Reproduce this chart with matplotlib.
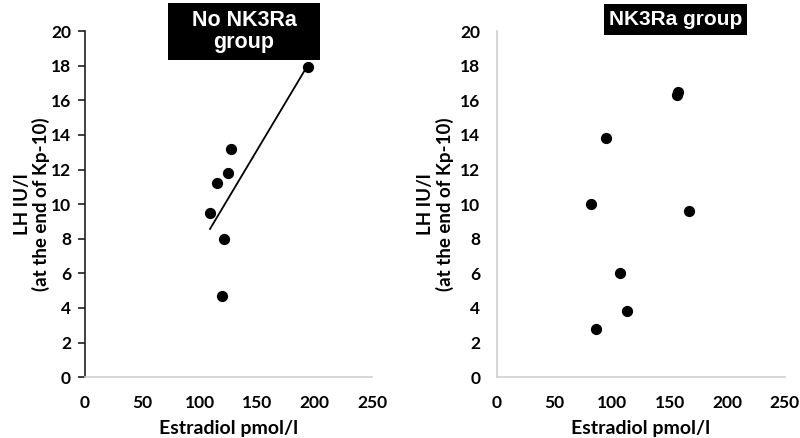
import numpy as np
import matplotlib
matplotlib.use("Agg")
import matplotlib.pyplot as plt
from matplotlib.patches import Rectangle

# No NK3Ra group
no_nk3ra_e2 = [194, 127, 125, 115, 109, 121, 119]
no_nk3ra_lh = [17.9, 13.2, 11.8, 11.2, 9.5, 8.0, 4.7]

# NK3Ra group
nk3ra_e2 = [157, 156, 95, 82, 167, 107, 113, 86]
nk3ra_lh = [16.5, 16.3, 13.8, 10.0, 9.6, 6.0, 3.8, 2.8]

x_ticks = [0, 50, 100, 150, 200, 250]
y_ticks = [0, 2, 4, 6, 8, 10, 12, 14, 16, 18, 20]
x_label = "Estradiol pmol/l"
y_label = "LH IU/l\n(at the end of Kp-10)"

tick_font = "Lato"
box_font = "Liberation Sans"

fig = plt.figure(figsize=(8, 4.38), dpi=100)
ax1 = fig.add_axes([0.106, 0.139, 0.359, 0.790])
ax2 = fig.add_axes([0.621, 0.139, 0.360, 0.790])


def style_axes(ax, left_color, show_yticks, ylab_x):
    ax.set_xlim(0, 250)
    ax.set_ylim(0, 20)
    ax.set_xticks(x_ticks)
    ax.set_yticks(y_ticks)
    for s in ["top", "right"]:
        ax.spines[s].set_visible(False)
    ax.spines["bottom"].set_color("#d0d0d0")
    ax.spines["left"].set_color(left_color)
    ax.spines["bottom"].set_linewidth(1.2)
    ax.spines["left"].set_linewidth(1.2)
    ax.tick_params(axis="x", length=0, pad=13)
    if show_yticks:
        ax.tick_params(axis="y", length=5, width=1.2, color=left_color, pad=5)
    else:
        ax.tick_params(axis="y", length=0, pad=12)
    for lab in ax.get_xticklabels() + ax.get_yticklabels():
        lab.set_fontfamily(tick_font)
        lab.set_fontweight("bold")
        lab.set_fontsize(12.5)
    ax.set_xlabel(x_label, fontfamily=tick_font, fontweight="bold",
                  fontsize=14, labelpad=6)
    ax.set_ylabel(y_label, fontfamily=tick_font, fontweight="bold",
                  fontsize=13.5, linespacing=1.1)
    ax.yaxis.set_label_coords(ylab_x, 0.5)


ax1.scatter(no_nk3ra_e2, no_nk3ra_lh, s=50, color="black", zorder=3)
slope, intercept = np.polyfit(no_nk3ra_e2, no_nk3ra_lh, 1)
xs = np.array([min(no_nk3ra_e2), max(no_nk3ra_e2)])
ax1.plot(xs, slope * xs + intercept, color="black", lw=1.3)
style_axes(ax1, "#202020", True, -0.12)

ax2.scatter(nk3ra_e2, nk3ra_lh, s=50, color="black", zorder=3)
style_axes(ax2, "#d0d0d0", False, -0.15)

# title boxes
fig.patches.append(Rectangle((0.210, 0.863), 0.190, 0.130, transform=fig.transFigure,
                             facecolor="black", edgecolor="none"))
fig.text(0.305, 0.928, "No NK3Ra\ngroup", color="white", fontfamily=box_font,
         fontweight="bold", fontsize=15.5, ha="center", va="center", linespacing=1.05)
fig.patches.append(Rectangle((0.755, 0.920), 0.179, 0.071, transform=fig.transFigure,
                             facecolor="black", edgecolor="none"))
fig.text(0.8445, 0.955, "NK3Ra group", color="white", fontfamily=box_font,
         fontweight="bold", fontsize=15, ha="center", va="center")

fig.savefig("out.png", dpi=100, facecolor="white")
